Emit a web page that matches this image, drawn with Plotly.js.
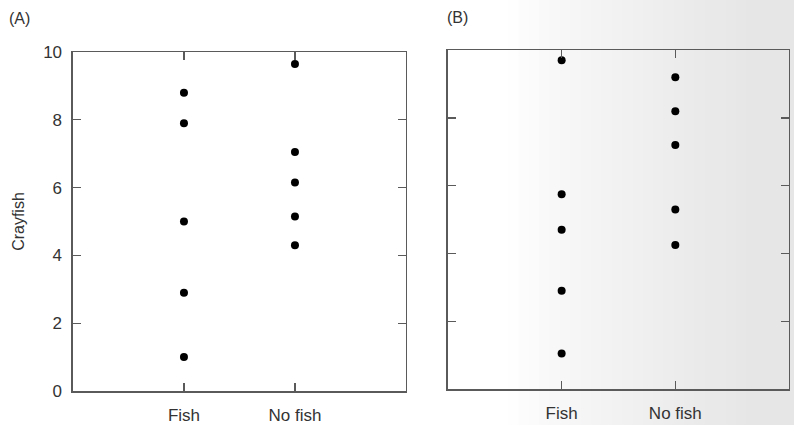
<!DOCTYPE html>
<html>
<head>
<meta charset="utf-8">
<script src="https://cdn.plot.ly/plotly-3.0.1.min.js"></script>
<style>html,body{margin:0;padding:0;background:#fff;}#chart{width:794px;height:425px;}</style>
</head>
<body>
<div id="chart"></div>
<script>
// Data
const categories = ["Fish", "No fish"];
const fishA = [8.8, 7.9, 5.0, 2.9, 1.0];
const noFishA = [9.65, 7.05, 6.15, 5.15, 4.3];
const fishB = [9.7, 5.75, 4.7, 2.9, 1.05];
const noFishB = [9.2, 8.2, 7.2, 5.3, 4.25];
const yTicks = [0, 2, 4, 6, 8, 10];
const yTicksB = [2, 4, 6, 8];

function pts(cat, vals, xa, ya) {
  return {
    type: 'scatter', mode: 'markers',
    x: vals.map(() => cat), y: vals,
    xaxis: xa, yaxis: ya,
    marker: {color: '#000', size: 8},
    showlegend: false, hoverinfo: 'y'
  };
}

const traces = [
  pts(categories[0], fishA, 'x', 'y'),
  pts(categories[1], noFishA, 'x', 'y'),
  pts(categories[0], fishB, 'x2', 'y2'),
  pts(categories[1], noFishB, 'x2', 'y2')
];

const axisLine = '#5a5a5a';
const fam = 'Liberation Sans, Arial, sans-serif';
const font = {family: fam, size: 16, color: '#333'};

const xBase = {
  type: 'category', categoryarray: categories, range: [-1, 2],
  showline: true, mirror: 'ticks', linecolor: axisLine, linewidth: 1.5,
  ticks: 'inside', ticklen: 8, tickcolor: axisLine, tickwidth: 1.2,
  showgrid: false, zeroline: false, tickfont: {family: fam, size: 17, color: '#333'},
  ticklabelstandoff: 8
};
const yBase = {
  range: [0, 10], showline: true, mirror: 'ticks', linecolor: axisLine, linewidth: 1.5,
  ticks: 'inside', ticklen: 8, tickcolor: axisLine, tickwidth: 1.2,
  showgrid: false, zeroline: false, tickfont: {family: fam, size: 17, color: '#333'},
  ticklabelstandoff: 6
};

// background shading bands (scan paper tone)
const bands = [];
const nb = 24;
for (let i = 0; i < nb; i++) {
  const t = i / (nb - 1);
  const v = Math.round(254 - 24 * Math.pow(t, 0.8));
  bands.push({type: 'rect', xref: 'paper', yref: 'paper', x0: 0.64 + 0.3 * t, x1: 1.0, y0: 0, y1: 1,
    fillcolor: 'rgb(' + v + ',' + v + ',' + v + ')', line: {width: 0}, layer: 'below'});
}

const layout = {
  width: 794, height: 425,
  margin: {l: 0, r: 0, t: 0, b: 0},
  paper_bgcolor: '#fff', plot_bgcolor: 'rgba(0,0,0,0)',
  font: font,
  xaxis: Object.assign({}, xBase, {domain: [0.0919, 0.5113], anchor: 'y'}),
  yaxis: Object.assign({}, yBase, {domain: [0.08, 0.8776], anchor: 'x', tickvals: yTicks,
    title: {text: 'Crayfish', font: {family: fam, size: 16, color: '#333'}, standoff: 14}}),
  xaxis2: Object.assign({}, xBase, {domain: [0.5642, 0.9937], anchor: 'y2'}),
  yaxis2: Object.assign({}, yBase, {domain: [0.0847, 0.882], anchor: 'x2', tickvals: yTicksB, showticklabels: false}),
  shapes: bands,
  annotations: [
    {text: '(A)', xref: 'paper', yref: 'paper', x: 7/794, y: 1 - 18/425, xanchor: 'left', yanchor: 'middle', showarrow: false, font: font},
    {text: '(B)', xref: 'paper', yref: 'paper', x: 445/794, y: 1 - 17/425, xanchor: 'left', yanchor: 'middle', showarrow: false, font: font}
  ]
};

Plotly.newPlot('chart', traces, layout, {staticPlot: true, displayModeBar: false});
</script>
</body>
</html>
